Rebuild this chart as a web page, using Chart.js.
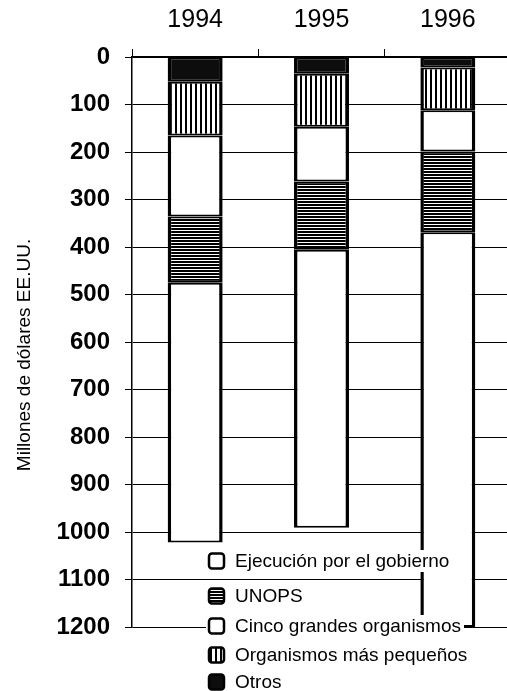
<!DOCTYPE html>
<html><head><meta charset="utf-8">
<script src="https://cdn.jsdelivr.net/npm/chart.js@4.4.0/dist/chart.umd.min.js"></script>
<style>html,body{margin:0;padding:0;overflow:hidden;background:#fff}canvas{display:block}</style>
</head><body>
<canvas id="c" width="511" height="691"></canvas>
<script>
// ---- data (millions of US$) ----
const years = ['1994', '1995', '1996'];
const otros = [52, 35, 22];
const pequenos = [113, 112, 90];
const cinco = [171, 115, 87];
const unops = [139, 144, 170];
const gobierno = [547, 585, 831];
const yMin = 0, yMax = 1200, yStep = 100;
const seriesNames = ['Otros', 'Organismos más pequeños', 'Cinco grandes organismos', 'UNOPS', 'Ejecución por el gobierno'];
const yTitle = 'Millones de dólares EE.UU.';

const FONT = '"Liberation Sans", Arial, sans-serif';

function mkPattern(w, h, draw) {
  const c = document.createElement('canvas'); c.width = w; c.height = h;
  const x = c.getContext('2d'); x.fillStyle = '#fff'; x.fillRect(0, 0, w, h);
  x.fillStyle = '#000'; draw(x);
  return document.getElementById('c').getContext('2d').createPattern(c, 'repeat');
}
const hStripe = mkPattern(4, 3, x => x.fillRect(0, 0, 4, 2));
const vStripe = mkPattern(5, 4, x => x.fillRect(0, 0, 2, 4));
const fills = ['#0d0d0d', vStripe, '#ffffff', hStripe, '#ffffff'];
const values = [otros, pequenos, cinco, unops, gobierno];

const legendPlugin = {
  id: 'customLegend',
  afterDraw(chart) {
    const ctx = chart.ctx;
    // y-axis title
    ctx.save();
    ctx.translate(25, 355);
    ctx.rotate(-Math.PI / 2);
    ctx.font = '19px ' + FONT;
    ctx.fillStyle = '#000';
    ctx.textAlign = 'center';
    ctx.textBaseline = 'middle';
    ctx.fillText(yTitle, 0, 0);
    ctx.restore();

    const rows = [561, 596, 626, 655, 682];
    const boxX = 209, textX = 235, bs = 15;
    ctx.save();
    ctx.font = '19px ' + FONT;
    ctx.textBaseline = 'middle';
    const order = [4, 3, 2, 1, 0];
    order.forEach((di, i) => {
      const y = rows[i];
      const label = chart.data.datasets[di].label;
      const tw = ctx.measureText(label).width;
      ctx.fillStyle = '#fff';
      ctx.fillRect(boxX - 3, y - 11, textX - boxX + tw + 6, 22);
      ctx.beginPath();
      ctx.roundRect(boxX, y - bs / 2, bs, bs, 3);
      ctx.fillStyle = chart.data.datasets[di].backgroundColor;
      ctx.fill();
      ctx.lineWidth = 2.5; ctx.strokeStyle = '#000'; ctx.stroke();
      ctx.fillStyle = '#000';
      ctx.fillText(label, textX, y + 1);
    });
    ctx.restore();
  }
};

new Chart(document.getElementById('c'), {
  type: 'bar',
  data: {
    labels: years,
    datasets: values.map((v, i) => ({
      label: seriesNames[i],
      data: v,
      backgroundColor: fills[i],
      borderColor: '#000',
      borderWidth: { left: 3.5, right: 3.5, top: 2, bottom: 2 },
      borderSkipped: false,
      barPercentage: 0.435,
      categoryPercentage: 1
    }))
  },
  options: {
    responsive: false,
    animation: false,
    events: [],
    layout: { padding: { left: 0, right: 0, top: 0, bottom: 64 } },
    plugins: { legend: { display: false }, tooltip: { enabled: false } },
    scales: {
      x: {
        position: 'top',
        stacked: true,
        afterFit: s => { s.height = 57; },
        grid: { display: true, drawOnChartArea: false, drawTicks: true, tickLength: 8, color: '#000', lineWidth: 1, offset: true },
        border: { display: true, color: '#000', width: 1.5 },
        ticks: { color: '#000', padding: 14, font: { family: FONT, size: 25 } }
      },
      y: {
        stacked: true,
        reverse: true,
        min: yMin, max: yMax,
        afterFit: s => { s.width = 132; },
        grid: { color: '#000', lineWidth: 1, tickLength: 7, drawTicks: true },
        border: { display: true, color: '#000', width: 1.5 },
        ticks: { stepSize: yStep, color: '#000', padding: 15, callback: v => String(v), font: { family: FONT, size: 24, weight: 'bold' } }
      }
    }
  },
  plugins: [legendPlugin]
});
</script>
</body></html>
